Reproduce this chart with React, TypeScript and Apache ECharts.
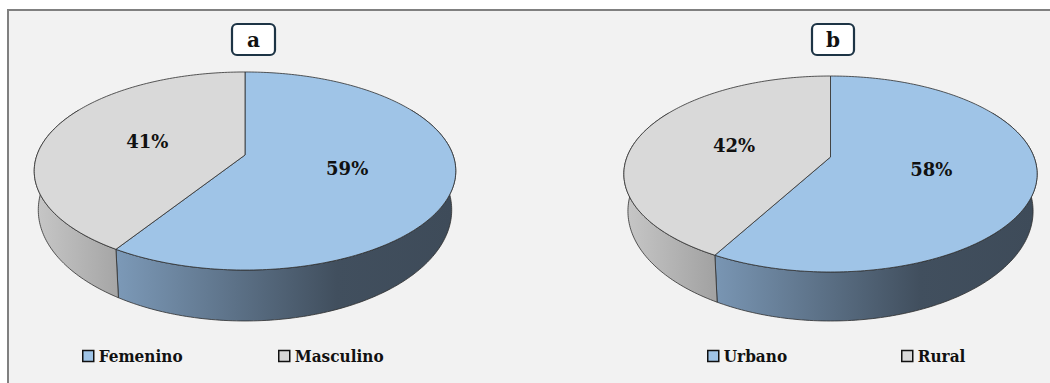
import React, { useEffect, useRef } from "react";
import * as echarts from "echarts";

// ---- data ----
const pieTitles = ["a", "b"];
const sexCategories = ["Femenino", "Masculino"];
const sexValues = [59, 41];
const areaCategories = ["Urbano", "Rural"];
const areaValues = [58, 42];

// ---- styles / geometry ----
const topColors = ["#9fc4e7", "#d9d9d9"];
const wallStops = [
  [
    { offset: 0, color: "#8aa6c2" },
    { offset: 0.2, color: "#7b98b6" },
    { offset: 0.72, color: "#414f5e" },
    { offset: 1, color: "#3e4b59" },
  ],
  [
    { offset: 0, color: "#c6c6c6" },
    { offset: 0.21, color: "#a3a3a3" },
    { offset: 1, color: "#8a8a8a" },
  ],
];
const EDGE = "#2e2e2e";
const SERIF = "'DejaVu Serif'";
const SERIF_COND = "'DejaVu Serif Condensed', 'DejaVu Serif'";

type Geo = { cx: number; c: number; b: number; k: number; a: number; b2: number; c2: number; a2: number; boxX: number; boxW: number; legendX: number[] };
const geos: Geo[] = [
  { cx: 245, c: 155, b: 71.4, k: -0.1616, a: 208, b2: 77.1, c2: 192, a2: 204, boxX: 232, boxW: 43, legendX: [82, 278] },
  { cx: 830.5, c: 157, b: 67.8, k: -0.1735, a: 203.5, b2: 73.2, c2: 192.1, a2: 199.5, boxX: 812, boxW: 42, legendX: [707, 901] },
];

function topPt(g: Geo, th: number, r: number) {
  const rad = (th * Math.PI) / 180;
  const u = r * Math.sin(rad);
  const v = -r * Math.cos(rad);
  const d = 1 + g.k * v;
  return [g.cx + (g.a * u) / d, (g.b * v + g.c) / d];
}
function botPt(g: Geo, th: number) {
  const rad = (th * Math.PI) / 180;
  const u = Math.sin(rad);
  const v = -Math.cos(rad);
  const d = 1 + g.k * v;
  return [g.cx + (g.a2 * u) / d, (g.b2 * v + g.c2) / d];
}
function arcAngles(s: number, e: number, step: number) {
  const out: number[] = [];
  for (let t = s; t < e; t += step) out.push(t);
  out.push(e);
  return out;
}

function buildSeries() {
  const pies = [
    { cats: sexCategories, vals: sexValues },
    { cats: areaCategories, vals: areaValues },
  ];
  const wallSeries: any[] = [];
  const topSeries: any[] = [];
  pies.forEach((p, pi) => {
    const g = geos[pi];
    const total = p.vals.reduce((s, v) => s + v, 0);
    let acc = 0;
    p.vals.forEach((val, i) => {
      const start = (acc / total) * 360;
      acc += val;
      const end = (acc / total) * 360;
      const color = topColors[i];
      wallSeries.push({
        type: "custom",
        name: p.cats[i],
        coordinateSystem: "none",
        z: 1,
        silent: true,
        data: [[start, end, val]],
        renderItem: (params: any, api: any) => {
          const s = Math.max(api.value(0), 60);
          const e = Math.min(api.value(1), 300);
          if (e <= s) return { type: "group", children: [] };
          const angs = arcAngles(s, e, 1);
          const pts = angs.map((t) => topPt(g, t, 1)).concat(angs.slice().reverse().map((t) => botPt(g, t)));
          return {
            type: "polygon",
            shape: { points: pts },
            style: {
              fill: new echarts.graphic.LinearGradient(g.cx - g.a, 0, g.cx + g.a, 0, wallStops[i], true),
              stroke: EDGE,
              lineWidth: 0.8,
            },
          };
        },
      });
      topSeries.push({
        type: "custom",
        name: p.cats[i],
        coordinateSystem: "none",
        z: 2,
        silent: true,
        itemStyle: { color },
        data: [[start, end, val]],
        renderItem: (params: any, api: any) => {
          const s = api.value(0);
          const e = api.value(1);
          const v = api.value(2);
          const angs = arcAngles(s, e, 1);
          const pts = [[g.cx, g.c]].concat(angs.map((t) => topPt(g, t, 1)));
          const lp = topPt(g, (s + e) / 2, 0.5);
          return {
            type: "group",
            children: [
              { type: "polygon", shape: { points: pts }, style: { fill: color, stroke: EDGE, lineWidth: 0.8 } },
              {
                type: "text",
                x: lp[0],
                y: lp[1],
                style: {
                  text: `${v}%`,
                  font: `bold 18px ${SERIF}`,
                  fill: "#111",
                  align: "center",
                  verticalAlign: "middle",
                },
              },
            ],
          };
        },
      });
    });
  });
  return wallSeries.concat(topSeries);
}

function buildLegends() {
  const lists = [sexCategories, areaCategories];
  const out: any[] = [];
  lists.forEach((cats, pi) => {
    cats.forEach((name, i) => {
      out.push({
        data: [{ name, itemStyle: { color: topColors[i], borderColor: "#111", borderWidth: 1.5 } }],
        left: geos[pi].legendX[i],
        top: 347,
        padding: 0,
        icon: "rect",
        itemWidth: 11,
        itemHeight: 11,
        selectedMode: false,
        textStyle: { fontFamily: SERIF_COND, fontWeight: "bold", fontSize: 17, color: "#111", lineHeight: 18 },
      });
    });
  });
  return out;
}

function buildGraphic() {
  const els: any[] = [
    {
      type: "rect",
      z: -10,
      silent: true,
      shape: { x: 8, y: 10, width: 1100, height: 420 },
      style: { fill: "#f2f2f2", stroke: "#808080", lineWidth: 2 },
    },
  ];
  pieTitles.forEach((t, pi) => {
    const g = geos[pi];
    els.push({
      type: "rect",
      z: 10,
      shape: { x: g.boxX, y: 24, width: g.boxW, height: 31, r: 5 },
      style: { fill: "#ffffff", stroke: "#1d3445", lineWidth: 2.2 },
    });
    els.push({
      type: "text",
      z: 11,
      x: g.boxX + g.boxW / 2,
      y: 40,
      style: {
        text: t,
        font: `bold 20px ${SERIF}`,
        fill: "#111",
        align: "center",
        verticalAlign: "middle",
      },
    });
  });
  return els;
}

export default function App() {
  const ref = useRef<HTMLDivElement>(null);
  useEffect(() => {
    if (!ref.current) return;
    const chart = echarts.init(ref.current, undefined, { renderer: "svg" });
    chart.setOption({
      animation: false,
      backgroundColor: "#ffffff",
      graphic: buildGraphic(),
      legend: buildLegends(),
      series: buildSeries(),
    });
    return () => chart.dispose();
  }, []);
  return <div ref={ref} style={{ position: "absolute", left: 0, top: 0, width: 1050, height: 383 }} />;
}
